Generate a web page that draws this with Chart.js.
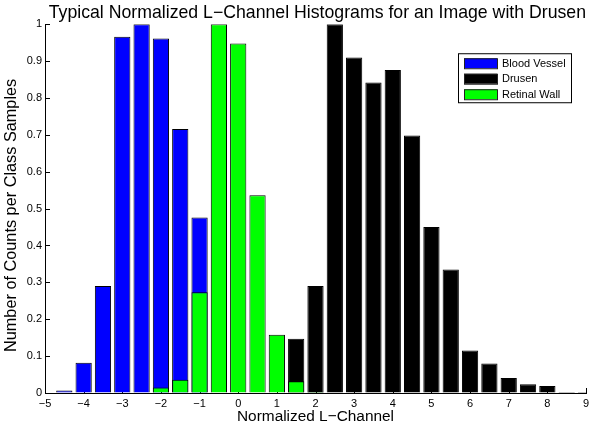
<!DOCTYPE html>
<html lang="en">
<head>
  <meta charset="UTF-8">
  <title>Normalized L-Channel Histograms</title>
  <style>
    html, body { margin: 0; padding: 0; background: #fff; }
  </style>
</head>
<body>
  <canvas id="histChart" width="589" height="430"></canvas>

  <script src="https://cdn.jsdelivr.net/npm/chart.js"></script>
  <script>
    // bin centres (normalized L-channel), one value per bar position
    const binCenters = [-4.5, -4, -3.5, -3, -2.5, -2, -1.5, -1, -0.5, 0, 0.5, 1, 1.5, 2,
                        2.5, 3, 3.5, 4, 4.5, 5, 5.5, 6, 6.5, 7, 7.5, 8, 8.5, 9];

    // normalized counts per class, null where no bar shows
    const bloodVessel = [0.007, 0.082, 0.29, 0.966, 1.0, 0.961, 0.716, 0.476, null, null, null, null, null, null,
                         null, null, null, null, null, null, null, null, null, null, null, null, null, null];
    const drusen      = [null, null, null, null, null, null, null, null, null, null, null, null, 0.147, 0.29,
                         1.0, 0.91, 0.842, 0.876, 0.698, 0.45, 0.335, 0.115, 0.08, 0.041, 0.024, 0.019, 0.003, 0.003];
    const retinalWall = [null, null, null, null, null, 0.015, 0.036, 0.273, 1.0, 0.948, 0.536, 0.158, 0.032, 0.003,
                         null, null, null, null, null, null, null, null, null, null, null, null, null, null];

    const seriesNames = ['Blood Vessel', 'Drusen', 'Retinal Wall'];
    const seriesColors = ['#0000ff', '#000000', '#00ff00'];

    const FONT = "'Liberation Sans', Arial, Helvetica, sans-serif";
    Chart.defaults.font.family = FONT;
    Chart.defaults.color = '#000';

    function toPoints(values) {
      const pts = [];
      values.forEach((v, i) => { if (v !== null) pts.push({ x: binCenters[i], y: v }); });
      return pts;
    }

    // MATLAB prints "1" not "1.0", and a real minus sign
    const fmt = v => {
      const n = +Number(v).toFixed(1);
      return n < 0 ? '\u2212' + Math.abs(n) : String(n);
    };

    // MATLAB-style ticks pointing into the axes
    const inwardTicks = {
      id: 'inwardTicks',
      beforeDatasetsDraw(chart) {
        const { ctx, chartArea, scales } = chart;
        ctx.save();
        ctx.strokeStyle = '#000';
        ctx.lineWidth = 1;
        ctx.beginPath();
        scales.x.ticks.forEach(t => {
          const px = Math.round(scales.x.getPixelForValue(t.value)) + 0.5;
          ctx.moveTo(px, chartArea.bottom);
          ctx.lineTo(px, chartArea.bottom - 5);
        });
        scales.y.ticks.forEach(t => {
          const py = Math.round(scales.y.getPixelForValue(t.value)) + 0.5;
          ctx.moveTo(chartArea.left, py);
          ctx.lineTo(chartArea.left + 5, py);
        });
        ctx.stroke();
        ctx.restore();
      }
    };

    // legend box inside the axes, top right
    const boxLegend = {
      id: 'boxLegend',
      afterDraw(chart) {
        const { ctx, chartArea } = chart;
        const x0 = chartArea.right - 128, y0 = chartArea.top + 29;
        const w = 113, h = 49;
        ctx.save();
        ctx.fillStyle = '#fff';
        ctx.fillRect(x0, y0, w, h);
        ctx.strokeStyle = '#000';
        ctx.lineWidth = 1;
        ctx.strokeRect(x0 + 0.5, y0 + 0.5, w, h);
        ctx.font = '11px ' + FONT;
        ctx.textBaseline = 'middle';
        chart.data.datasets.forEach((ds, i) => {
          const cy = y0 + 10 + i * 15.5;
          ctx.fillStyle = ds.backgroundColor;
          ctx.fillRect(x0 + 6, cy - 5, 33, 10);
          ctx.strokeStyle = '#222';
          ctx.strokeRect(x0 + 6.5, cy - 4.5, 33, 10);
          ctx.fillStyle = '#000';
          ctx.fillText(ds.label, x0 + 44, cy + 0.5);
        });
        ctx.restore();
      }
    };

    const datasets = [bloodVessel, drusen, retinalWall].map((vals, i) => ({
      label: seriesNames[i],
      data: toPoints(vals),
      backgroundColor: seriesColors[i],
      borderColor: '#000',
      borderWidth: 1,
      grouped: false,
      order: 3 - i,
      barPercentage: 0.84,
      categoryPercentage: 1.0
    }));

    new Chart(document.getElementById('histChart'), {
      type: 'bar',
      data: { datasets },
      options: {
        responsive: false,
        animation: false,
        layout: { padding: { left: 0, right: 3, top: 0, bottom: 0 } },
        plugins: {
          legend: { display: false },
          tooltip: { enabled: false },
          title: {
            display: true,
            text: 'Typical Normalized L\u2212Channel Histograms for an Image with Drusen',
            align: 'end',
            font: { size: 17.7, weight: 'normal' },
            color: '#000',
            padding: { top: 2, bottom: 1 }
          }
        },
        scales: {
          x: {
            type: 'linear',
            offset: false,
            min: -5,
            max: 9,
            grid: { display: true, drawOnChartArea: false, drawTicks: false, offset: false },
            border: { display: true, color: '#000', width: 1 },
            ticks: { stepSize: 1, font: { size: 11 }, padding: 4, callback: v => fmt(v) },
            title: { display: true, text: 'Normalized L\u2212Channel', font: { size: 15.4 }, padding: { top: 0, bottom: 4 } },
            afterFit: s => { s.height = 37; s.paddingLeft = 0; s.paddingRight = 0; }
          },
          y: {
            min: 0,
            max: 1,
            grid: { display: true, drawOnChartArea: false, drawTicks: false },
            border: { display: true, color: '#000', width: 1 },
            ticks: { stepSize: 0.1, font: { size: 11 }, padding: 3, callback: v => fmt(v) },
            title: { display: true, text: 'Number of Counts per Class Samples\u00a0\u00a0\u00a0', font: { size: 16.3 }, padding: { top: 2, bottom: 0 } },
            afterFit: s => { s.width = 45; }
          }
        }
      },
      plugins: [inwardTicks, boxLegend]
    });
  </script>
</body>
</html>
